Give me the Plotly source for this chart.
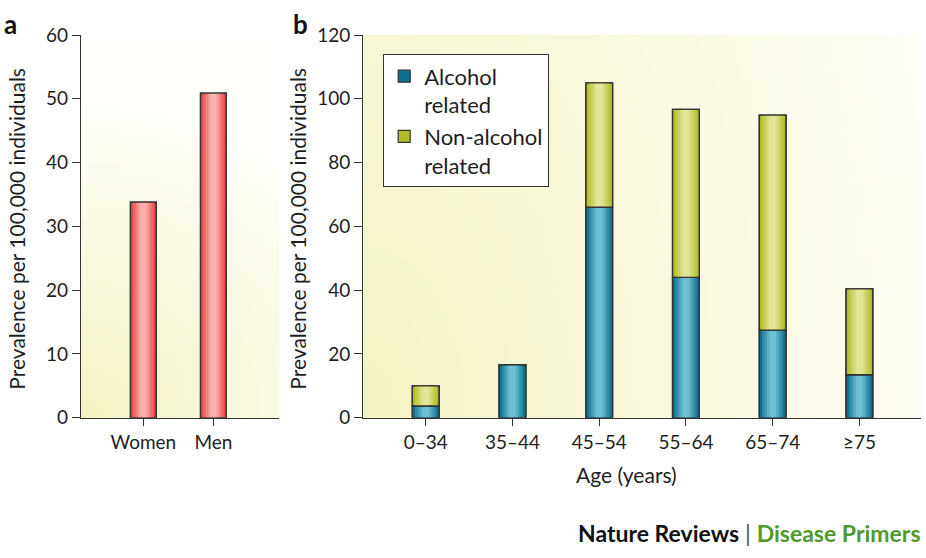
import zlib, struct, base64
import plotly.graph_objects as go

# ---------------- data ----------------
sex_categories = ["Women", "Men"]
sex_prevalence = [33.8, 50.9]

age_categories = ["0\u201334", "35\u201344", "45\u201354", "55\u201364", "65\u201374", "\u226575"]
alcohol_related = [3.7, 16.7, 66.0, 44.0, 27.5, 13.5]
non_alcohol_related = [6.3, 0.0, 39.0, 52.7, 67.4, 26.9]

y_ticks_a = [0, 10, 20, 30, 40, 50, 60]
y_ticks_b = [0, 20, 40, 60, 80, 100, 120]

FONT = "Lato"
AX = "#333333"
TXT = "#1e1e1e"

# ---------------- helpers ----------------
def png_uri(w, h, fn):
    raw = b""
    for j in range(h):
        row = bytearray([0])
        for i in range(w):
            row += bytes(fn(i / (w - 1), 1 - j / (h - 1)))
        raw += bytes(row)
    def chunk(t, d):
        c = struct.pack(">I", len(d)) + t + d
        return c + struct.pack(">I", zlib.crc32(t + d) & 0xffffffff)
    png = b"\x89PNG\r\n\x1a\n" + chunk(b"IHDR", struct.pack(">IIBBBBB", w, h, 8, 2, 0, 0, 0)) \
        + chunk(b"IDAT", zlib.compress(raw, 9)) + chunk(b"IEND", b"")
    return "data:image/png;base64," + base64.b64encode(png).decode()

YEL = (244, 243, 196)
WHT = (255, 255, 252)

def mix(a, b, t):
    return tuple(int(round(a[k] + (b[k] - a[k]) * t)) for k in range(3))

def grad_a(u, v):
    d = ((u * 198) ** 2 + (v * 398) ** 2) ** 0.5
    t = max(0.0, 1 - d / 330) ** 0.9
    return mix(WHT, YEL, t)

def grad_b(u, v):
    d = ((u * 556) ** 2 + (v * 398 * 0.55) ** 2) ** 0.5
    t = max(0.0, 1 - d / 640) ** 0.9
    return mix(WHT, YEL, t)

def rgb(c):
    return "rgb(%d,%d,%d)" % c

fig = go.Figure()

def shaded_bars(x, y, base, width, edge, center, xa, ya, name=None, legend=False):
    fracs = [1.0, 0.8, 0.6, 0.42, 0.24]
    ts = [0.0, 0.3, 0.55, 0.8, 1.0]
    for k, (f, t) in enumerate(zip(fracs, ts)):
        fig.add_trace(go.Bar(
            x=x, y=y, base=base, width=width * f, xaxis=xa, yaxis=ya,
            marker=dict(color=rgb(mix(edge, center, t)),
                        line=dict(width=1.2 if k == 0 else 0, color=AX)),
            name=name, showlegend=(legend and k == 0), hoverinfo="skip" if k else None))
    # outline on top
    fig.add_trace(go.Bar(
        x=x, y=y, base=base, width=width, xaxis=xa, yaxis=ya,
        marker=dict(color="rgba(0,0,0,0)", line=dict(width=1.3, color=AX)),
        showlegend=False, hoverinfo="skip"))

RED_E, RED_C = (232, 70, 72), (250, 178, 172)
TEAL_E, TEAL_C = (12, 112, 142), (112, 192, 212)
GRN_E, GRN_C = (178, 188, 40), (226, 229, 152)

shaded_bars(sex_categories, sex_prevalence, [0] * len(sex_prevalence), 0.37,
            RED_E, RED_C, "x", "y")
shaded_bars(age_categories, alcohol_related, [0] * len(alcohol_related), 0.31,
            TEAL_E, TEAL_C, "x2", "y2", name="Alcohol<br>related", legend=True)
shaded_bars(age_categories, non_alcohol_related, alcohol_related, 0.31,
            GRN_E, GRN_C, "x2", "y2", name="Non-alcohol<br>related", legend=True)

ydom = [0.2415, 0.9570]
axis_common = dict(showline=True, linecolor=AX, linewidth=1.3, ticks="outside",
                   tickcolor=AX, tickwidth=1.2, showgrid=False, zeroline=False,
                   tickfont=dict(family=FONT, size=19, color=TXT))

fig.update_layout(
    width=926, height=558, margin=dict(l=0, r=0, t=0, b=0),
    paper_bgcolor="white", plot_bgcolor="rgba(0,0,0,0)",
    barmode="overlay", font=dict(family=FONT, size=19, color=TXT),
    xaxis=dict(domain=[0.0875, 0.3016], range=[-0.89, 1.94], anchor="y",
               ticklen=7, **axis_common),
    yaxis=dict(domain=ydom, range=[0, 60], tickvals=y_ticks_a, anchor="x",
               ticklen=8, **axis_common),
    xaxis2=dict(domain=[0.3923, 0.9946], range=[-0.72, 5.71], anchor="y2",
                ticklen=7, **axis_common),
    yaxis2=dict(domain=ydom, range=[0, 120], tickvals=y_ticks_b, anchor="x2",
                ticklen=8, **axis_common),
    legend=dict(x=0.4136, y=0.9211, xanchor="left", yanchor="top",
                bgcolor="white", bordercolor=AX, borderwidth=1.2,
                font=dict(family=FONT, size=22, color=TXT),
                valign="top", tracegroupgap=6, itemwidth=30),
    showlegend=True,
)

fig.add_layout_image(dict(source=png_uri(60, 90, grad_a), xref="x domain", yref="y domain",
                          x=0, y=1, sizex=1, sizey=1, sizing="stretch",
                          xanchor="left", yanchor="top", layer="below"))
fig.add_layout_image(dict(source=png_uri(120, 90, grad_b), xref="x2 domain", yref="y2 domain",
                          x=0, y=1, sizex=1, sizey=1, sizing="stretch",
                          xanchor="left", yanchor="top", layer="below"))

def A(text, px, py, size, xanchor="center", angle=0, color=TXT):
    return dict(text=text, x=px / 926, y=1 - py / 558, xref="paper", yref="paper",
                xanchor=xanchor, yanchor="middle", textangle=angle, showarrow=False,
                font=dict(family=FONT, size=size, color=color))

ytitle = "Prevalence per 100,000 individuals"
ann = [
    A(ytitle, 17, 226, 21, angle=-90),
    A(ytitle, 298, 226, 21, angle=-90),
    A("Age (years)", 626, 482, 21),
    A("<b>a</b>", 2, 12, 26, xanchor="left", color="#111"),
    A("<b>b</b>", 291, 12, 26, xanchor="left", color="#111"),
    A("<b>Nature Reviews</b> <span style='color:#555'>|</span> "
      "<b><span style='color:#4e9a2c'>Disease Primers</span></b>",
      923, 543, 23, xanchor="right", color="#111"),
]
fig.update_layout(annotations=ann)

fig.write_html("out.html")
